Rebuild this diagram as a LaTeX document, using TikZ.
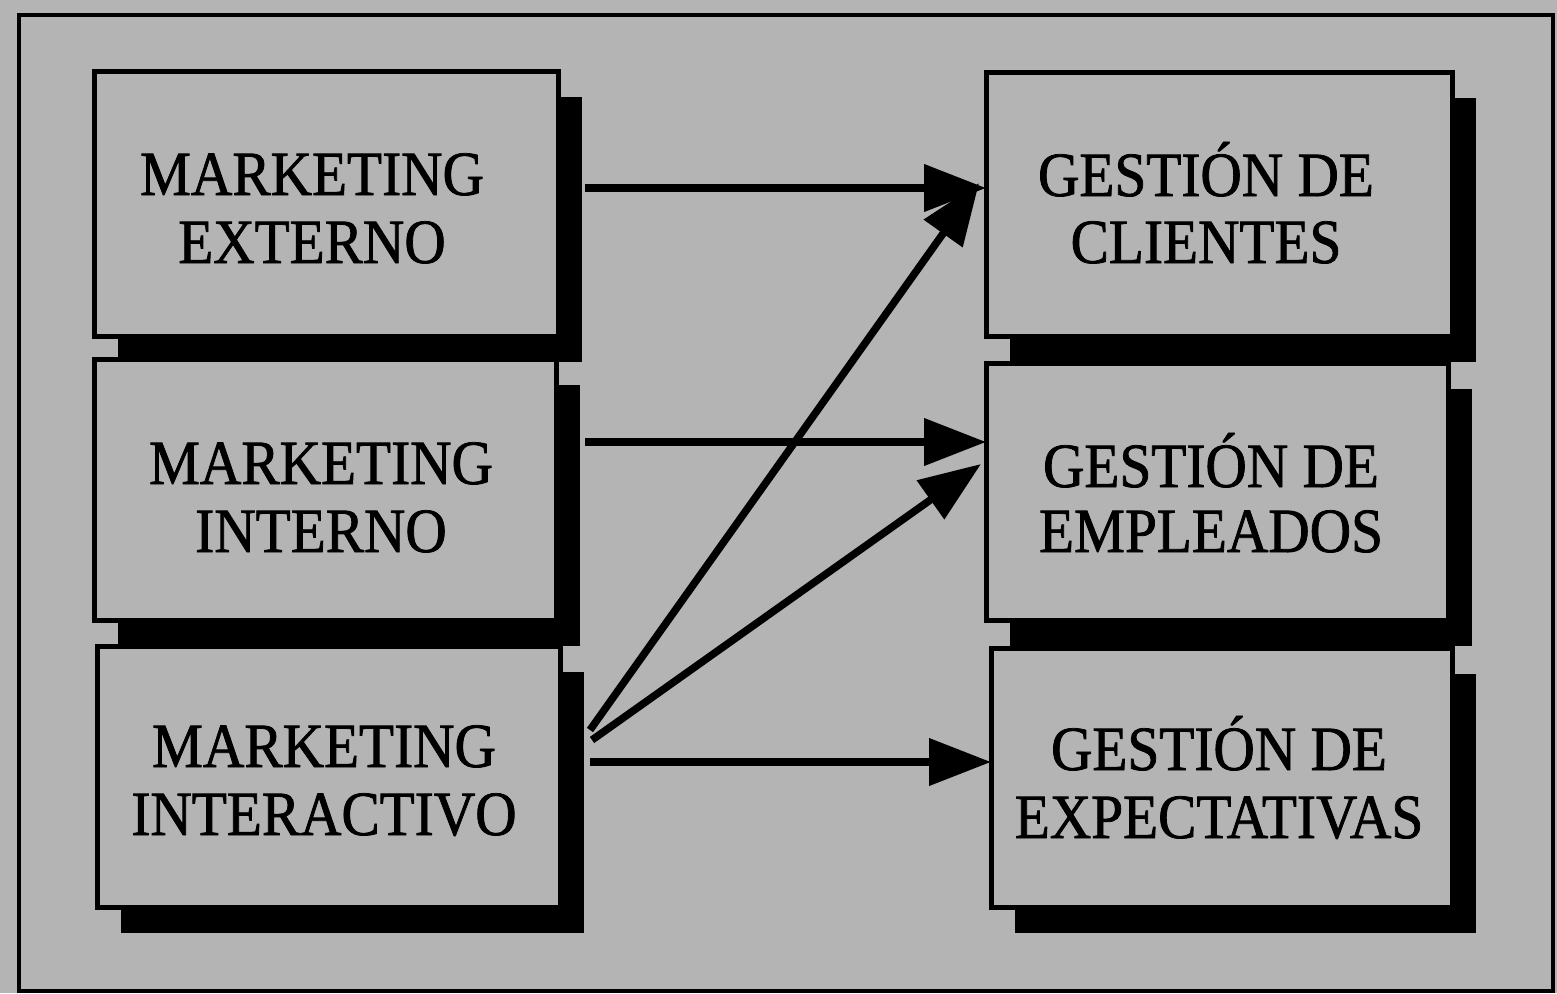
\documentclass[tikz,border=0pt]{standalone}
\usepackage{fontspec}
\setmainfont{Liberation Serif}[FakeStretch=0.91,FakeBold=1.2]
\usetikzlibrary{arrows.meta}
\definecolor{bg}{RGB}{180,180,180}
\tikzset{
  box/.style={draw=black, fill=bg, line width=5pt, inner sep=0pt, outer sep=0pt},
  shadowbox/.style={fill=black, inner sep=0pt, outer sep=0pt},
  lbl/.style={anchor=base, inner sep=0pt, font=\fontsize{63}{68}\selectfont, text=black},
  arr/.style={line width=7.5pt, -{Triangle[length=62pt,width=46pt]}},
  frame/.style={draw=black, line width=4pt}
}
\newcommand\shbox[5]{%
  \node[shadowbox, minimum width={#4-#2}, minimum height={#5-#3}] (#1s) at ({(#2+#4)/2+24},{(#3+#5)/2+26}) {};
  \node[box, minimum width={#4-#2}, minimum height={#5-#3}] (#1) at ({(#2+#4)/2},{(#3+#5)/2}) {};
}
\begin{document}
\begin{tikzpicture}[x=1pt,y=-1pt]
\useasboundingbox (0,0) rectangle (1557,993);
\fill[bg] (0,0) rectangle (1557,993);
\draw[frame] (19,15) rectangle (1553,991);

\shbox{L1}{94}{71}{558}{336}
\shbox{L2}{94}{359}{556}{620}
\shbox{L3}{97}{646}{560}{907}
\shbox{R1}{986}{72}{1452}{336}
\shbox{R2}{986}{363}{1448}{620}
\shbox{R3}{991}{648}{1452}{907}

\node[lbl] (tL1a) at (312,195) {MARKETING};
\node[lbl] (tL1b) at (312,263) {EXTERNO};
\node[lbl] (tL2a) at (321,484) {MARKETING};
\node[lbl] (tL2b) at (321,552) {INTERNO};
\node[lbl] (tL3a) at (324,767) {MARKETING};
\node[lbl] (tL3b) at (324,835) {INTERACTIVO};
\node[lbl] (tR1a) at (1206,196) {GESTIÓN DE};
\node[lbl] (tR1b) at (1206,263) {CLIENTES};
\node[lbl] (tR2a) at (1211,487) {GESTIÓN DE};
\node[lbl] (tR2b) at (1211,552) {EMPLEADOS};
\node[lbl] (tR3a) at (1219,770) {GESTIÓN DE};
\node[lbl] (tR3b) at (1219,838) {EXPECTATIVAS};

\coordinate (a1s) at (585,188);
\coordinate (a2s) at (585,442);
\coordinate (a3s) at (590,762);
\coordinate (d1s) at (590,730);
\coordinate (d1e) at (979,183);
\coordinate (d2s) at (592,740);
\coordinate (d2e) at (981,464);

\draw[arr] (a1s) -- (a1s -| R1.west);
\draw[arr] (a2s) -- (a2s -| R2.west);
\draw[arr] (a3s) -- (a3s -| R3.west);
\draw[arr] (d1s) -- (d1e);
\draw[arr] (d2s) -- (d2e);
\end{tikzpicture}
\end{document}
